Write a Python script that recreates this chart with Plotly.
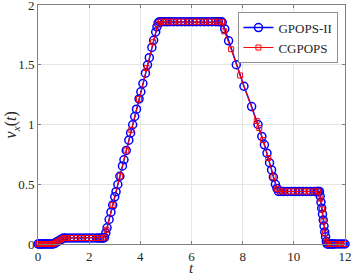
import plotly.graph_objects as go

# GPOPS-II solution (t, v_x)
t_gpops = [0, 0.04, 0.08, 0.12, 0.16, 0.2, 0.25, 0.3, 0.35, 0.4, 0.45, 0.5, 0.55, 0.6,
           0.65, 0.7, 0.75, 0.8, 0.85, 0.9, 0.95, 1.0,
           1.1, 1.25, 1.4, 1.55, 1.7, 1.85, 2.0, 2.15, 2.3, 2.4, 2.5, 2.55, 2.6,
           2.65, 2.7, 2.78, 2.85, 2.92, 3.0, 3.05, 3.12, 3.2, 3.3, 3.36, 3.45, 3.55, 3.62,
           3.7, 3.78, 3.85, 3.95, 4.02, 4.1, 4.2, 4.28, 4.35, 4.45, 4.52, 4.6, 4.65, 4.7,
           4.75, 4.85, 4.95, 5.05, 5.15, 5.3, 5.45, 5.6, 5.75, 5.9, 6.05, 6.2, 6.35, 6.5,
           6.65, 6.8, 6.95, 7.05, 7.15, 7.2,
           7.3, 7.45, 7.75, 8.05, 8.35, 8.6, 8.75, 8.85, 8.95, 9.05, 9.13, 9.2, 9.28, 9.34, 9.4,
           9.5, 9.6, 9.75, 9.9, 10.05, 10.2, 10.35, 10.5, 10.65, 10.8, 10.9, 10.95, 11.0,
           11.03, 11.06, 11.09, 11.12, 11.15, 11.18, 11.21, 11.24, 11.27, 11.3,
           11.35, 11.4, 11.45, 11.5, 11.55, 11.6, 11.7, 11.8, 11.9, 12.0]
v_gpops = [0, 0, 0, 0, 0, 0, 0, 0, 0, 0, 0, 0, 0, 0,
           0.006, 0.012, 0.019, 0.025, 0.031, 0.038, 0.044, 0.05,
           0.05, 0.05, 0.05, 0.05, 0.05, 0.05, 0.05, 0.05, 0.05, 0.05, 0.05, 0.05, 0.055,
           0.093, 0.136, 0.205, 0.266, 0.326, 0.395, 0.438, 0.498, 0.567, 0.653, 0.705, 0.783, 0.869, 0.929,
           0.998, 1.067, 1.128, 1.214, 1.274, 1.343, 1.429, 1.498, 1.559, 1.645, 1.705, 1.774, 1.817, 1.85,
           1.86, 1.86, 1.86, 1.86, 1.86, 1.86, 1.86, 1.86, 1.86, 1.86, 1.86, 1.86, 1.86, 1.86,
           1.86, 1.86, 1.86, 1.86, 1.86, 1.855,
           1.80, 1.70, 1.50, 1.32, 1.15, 1.0, 0.90, 0.83, 0.76, 0.68, 0.62, 0.56, 0.50, 0.465, 0.44,
           0.44, 0.44, 0.44, 0.44, 0.44, 0.44, 0.44, 0.44, 0.44, 0.44, 0.44, 0.44, 0.44,
           0.40, 0.35, 0.30, 0.25, 0.20, 0.15, 0.10, 0.06, 0.02, 0,
           0, 0, 0, 0, 0, 0, 0, 0, 0, 0]

# CGPOPS solution (t, v_x)
t_cgpops = [0, 0.05, 0.1, 0.15, 0.2, 0.25, 0.3, 0.35, 0.4, 0.45, 0.5, 0.55, 0.6,
            0.68, 0.76, 0.84, 0.92, 1.0,
            1.15, 1.3, 1.5, 1.7, 1.9, 2.1, 2.3, 2.45, 2.6,
            2.68, 2.92, 3.2, 3.45, 3.65, 3.95, 4.25, 4.5, 4.68,
            4.8, 4.95, 5.1, 5.3, 5.5, 5.7, 5.9, 6.1, 6.3, 6.5, 6.7, 6.9, 7.05, 7.2,
            7.28, 7.55, 7.9, 8.55, 8.65, 8.8, 9.0, 9.2, 9.35,
            9.45, 9.6, 9.8, 10.0, 10.2, 10.4, 10.6, 10.8, 10.95,
            11.04, 11.1, 11.16, 11.22, 11.28,
            11.35, 11.45, 11.55, 11.65, 11.75, 11.85, 12.0]
v_cgpops = [0, 0, 0, 0, 0, 0, 0, 0, 0, 0, 0, 0, 0,
            0.01, 0.02, 0.03, 0.04, 0.05,
            0.05, 0.05, 0.05, 0.05, 0.05, 0.05, 0.05, 0.05, 0.055,
            0.119, 0.326, 0.567, 0.783, 0.955, 1.214, 1.472, 1.688, 1.838,
            1.86, 1.86, 1.86, 1.86, 1.86, 1.86, 1.86, 1.86, 1.86, 1.86, 1.86, 1.86, 1.86, 1.855,
            1.78, 1.63, 1.41, 1.03, 0.97, 0.87, 0.72, 0.56, 0.46,
            0.44, 0.44, 0.44, 0.44, 0.44, 0.44, 0.44, 0.44, 0.44,
            0.38, 0.29, 0.19, 0.09, 0.02,
            0, 0, 0, 0, 0, 0, 0]

x_ticks = [0, 2, 4, 6, 8, 10, 12]
y_ticks = [0, 0.5, 1, 1.5, 2]
y_tick_labels = ["0", "0.5", "1", "1.5", "2"]

FONT = "Liberation Serif"
TXT = "#262626"

fig = go.Figure()
fig.add_trace(go.Scatter(
    x=t_gpops, y=v_gpops, mode="lines+markers", name="GPOPS-II",
    line=dict(color="#0000ff", width=1.5),
    marker=dict(symbol="circle-open", size=8, color="#0000ff", line=dict(width=1.5, color="#0000ff")),
    cliponaxis=False,
))
fig.add_trace(go.Scatter(
    x=t_cgpops, y=v_cgpops, mode="lines+markers", name="CGPOPS",
    line=dict(color="#ff0000", width=1),
    marker=dict(symbol="square-open", size=5, color="#ff0000", line=dict(width=1, color="#ff0000")),
    cliponaxis=False,
))

axis_common = dict(
    showline=True, linecolor="#808080", linewidth=1, mirror="ticks",
    ticks="inside", ticklen=3, tickcolor="#808080",
    showgrid=True, gridcolor="#e6e6e6", gridwidth=1,
    zeroline=False, automargin=False, ticklabeloverflow="allow",
    tickfont=dict(family=FONT, size=13, color=TXT),
)

fig.update_xaxes(range=[0, 12], tickvals=x_ticks, ticktext=[str(v) for v in x_ticks], **axis_common)
fig.update_yaxes(range=[0, 2], tickvals=y_ticks, ticktext=y_tick_labels, **axis_common)

fig.add_annotation(text="<i>t</i>", xref="paper", yref="paper", x=0.5, y=-0.138,
                   xanchor="center", yanchor="bottom", showarrow=False, borderpad=0,
                   font=dict(family=FONT, size=15, color=TXT))
fig.add_annotation(text="<i>v</i><sub><i>x</i></sub>(<i>t</i>)", xref="paper", yref="paper",
                   x=-0.085, y=0.5, xanchor="center", yanchor="middle", textangle=-90,
                   showarrow=False, font=dict(family=FONT, size=16, color=TXT))

fig.update_layout(
    width=352, height=277,
    margin=dict(l=38, r=7, t=5, b=33),
    paper_bgcolor="white", plot_bgcolor="white",
    showlegend=True,
    legend=dict(x=0.977, y=0.97, xanchor="right", yanchor="top",
                bgcolor="white", bordercolor=TXT, borderwidth=0.5,
                font=dict(family=FONT, size=13, color=TXT),
                tracegroupgap=0, itemwidth=30),
)

fig.write_html("out.html", config={"displayModeBar": False},
               post_script="document.body.style.margin='0';document.body.style.overflow='hidden';")
